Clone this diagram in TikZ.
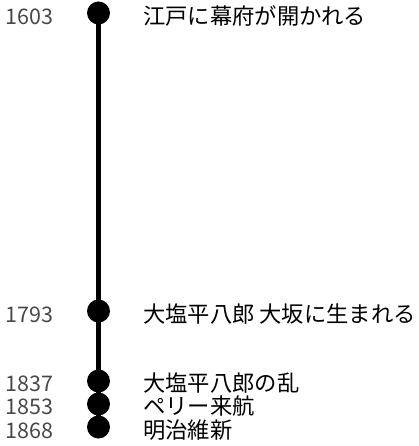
\documentclass[tikz,border=0pt]{standalone}
\usepackage{fontspec}
\setmainfont{Noto Sans CJK JP}
\definecolor{yeargray}{RGB}{72,72,72}
\begin{document}
\begin{tikzpicture}[x=1pt,y=-1pt,
  dot/.style={circle,fill=black,inner sep=0pt,minimum size=23pt},
  year/.style={anchor=base east,inner sep=0pt,text=yeargray,font=\fontsize{21.5}{24}\selectfont},
  event/.style={anchor=base west,inner sep=0pt,text=black,font=\fontsize{22.3}{24}\selectfont},
  axis/.style={line width=5pt}]
\useasboundingbox (0,0) rectangle (418,446);
\draw[axis] (98.5,13) -- (98.5,427);
\node[dot] (d1) at (98.5,13) {};
\node[dot] (d2) at (98.5,311) {};
\node[dot] (d3) at (98.5,381) {};
\node[dot] (d4) at (98.5,404) {};
\node[dot] (d5) at (98.5,427) {};
\node[year] (y1) at (53.5,25) {1603};
\node[year] (y2) at (53.5,322) {1793};
\node[year] (y3) at (53.5,391) {1837};
\node[year] (y4) at (53.5,414) {1853};
\node[year] (y5) at (53.5,438) {1868};
\node[event] (e1) at (143,25) {江戸に幕府が開かれる};
\node[event] (e2) at (143,322) {大塩平八郎 大坂に生まれる};
\node[event] (e3) at (143,391) {大塩平八郎の乱};
\node[event] (e4) at (143,414) {ペリー来航};
\node[event] (e5) at (143,438) {明治維新};
\end{tikzpicture}
\end{document}
